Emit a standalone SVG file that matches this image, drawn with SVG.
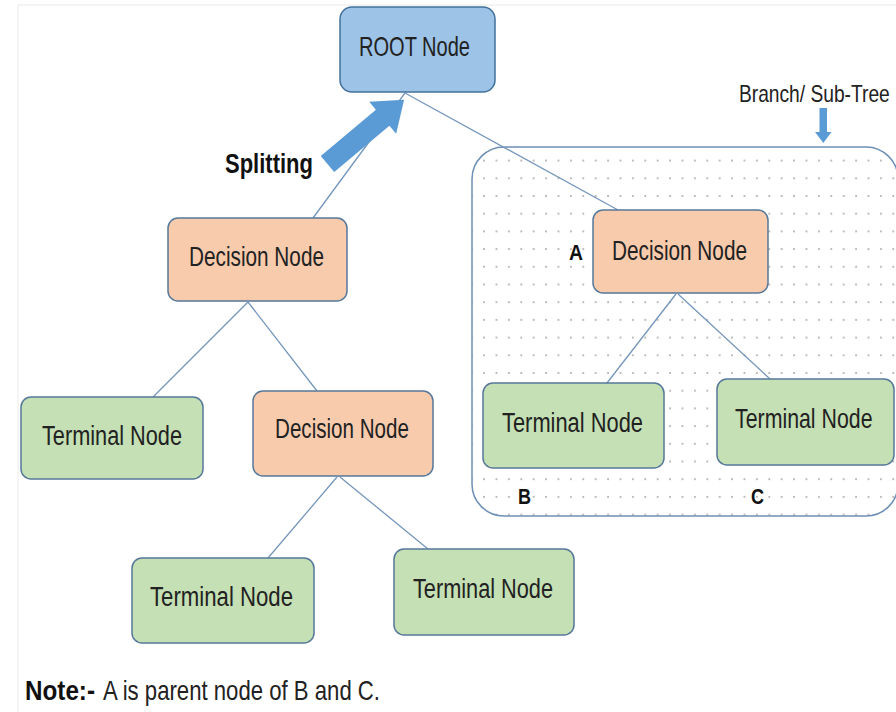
<svg xmlns="http://www.w3.org/2000/svg" width="896" height="712" viewBox="0 0 896 712">
<style>
.lbl{font-family:"Liberation Sans",Arial,sans-serif;font-size:27px;fill:#222222}
.bold{font-family:"Liberation Sans",Arial,sans-serif;font-weight:bold;fill:#111111}
.node{stroke:#56789a;stroke-width:1.5}
.dec{fill:#f8cbad}
.term{fill:#c5e0b4}
.root{fill:#9dc3e6;stroke:#41719c;stroke-width:1.5}
.conn{stroke:#7596bb;stroke-width:1.3;fill:none}
.blue{fill:#5b9bd5}
</style>
<defs>
<pattern id="dots" patternUnits="userSpaceOnUse" x="780.7" y="177.3" width="12.4" height="17.7">
<circle cx="1" cy="1" r="1" fill="#a9a9a9"/>
</pattern>
</defs>
<rect width="896" height="712" fill="#ffffff"/>
<line x1="18" y1="5" x2="896" y2="5" stroke="#e8e8e8" stroke-width="1"/>
<line x1="18" y1="5" x2="18" y2="712" stroke="#ececec" stroke-width="1"/>

<g id="subtree">
<rect x="472" y="147" width="426" height="369" rx="32" ry="32" fill="url(#dots)" stroke="#6d8fb5" stroke-width="1.5"/>
</g>

<g id="connectors">
<line class="conn" x1="405" y1="93" x2="313" y2="218"/>
<line class="conn" x1="405" y1="93" x2="618" y2="210"/>
<line class="conn" x1="248" y1="302" x2="153" y2="397"/>
<line class="conn" x1="248" y1="302" x2="317" y2="391"/>
<line class="conn" x1="337" y1="477" x2="268" y2="558"/>
<line class="conn" x1="340" y1="477" x2="428" y2="549"/>
<line class="conn" x1="676" y1="294" x2="607" y2="383"/>
<line class="conn" x1="678" y1="294" x2="770" y2="379"/>
</g>

<g id="splitting-arrow">
<polygon class="blue" transform="translate(327.5,164) rotate(-40)" points="0,-10.5 72,-10.5 72,-21 100,0 72,21 72,10.5 0,10.5"/>
<text class="bold" x="225" y="173" font-size="27" textLength="88" lengthAdjust="spacingAndGlyphs">Splitting</text>
</g>

<g id="branch-label">
<text class="lbl" style="font-size:24px" transform="translate(739,102) scale(0.8,1)">Branch/ Sub-Tree</text>
<polygon class="blue" points="819.5,108 827,108 827,132 831.5,132 823.3,143 815,132 819.5,132"/>
</g>

<g id="root">
<rect class="root" x="340" y="7" width="155" height="85" rx="12" ry="12"/>
<text class="lbl" x="359" y="56" style="font-size:28px" textLength="111" lengthAdjust="spacingAndGlyphs">ROOT Node</text>
</g>

<g id="decision-left">
<rect class="node dec" x="168" y="218" width="179" height="83" rx="10" ry="10"/>
<text class="lbl" x="189" y="266" textLength="135" lengthAdjust="spacingAndGlyphs">Decision Node</text>
</g>

<g id="terminal-left">
<rect class="node term" x="21" y="397" width="182" height="82" rx="10" ry="10"/>
<text class="lbl" x="42" y="445" textLength="140" lengthAdjust="spacingAndGlyphs">Terminal Node</text>
</g>

<g id="decision-mid">
<rect class="node dec" x="253" y="391" width="180" height="85" rx="10" ry="10"/>
<text class="lbl" x="275" y="438" textLength="134" lengthAdjust="spacingAndGlyphs">Decision Node</text>
</g>

<g id="terminal-bottom-left">
<rect class="node term" x="132" y="558" width="182" height="85" rx="10" ry="10"/>
<text class="lbl" x="150" y="606" textLength="143" lengthAdjust="spacingAndGlyphs">Terminal Node</text>
</g>

<g id="terminal-bottom-right">
<rect class="node term" x="394" y="549" width="180" height="86" rx="10" ry="10"/>
<text class="lbl" x="413" y="598" textLength="140" lengthAdjust="spacingAndGlyphs">Terminal Node</text>
</g>

<g id="decision-a">
<rect class="node dec" x="593" y="210" width="175" height="83" rx="10" ry="10"/>
<text class="lbl" x="612" y="260" textLength="135" lengthAdjust="spacingAndGlyphs">Decision Node</text>
<text class="bold" x="569" y="260" font-size="22" textLength="14" lengthAdjust="spacingAndGlyphs">A</text>
</g>

<g id="terminal-b">
<rect class="node term" x="483" y="383" width="181" height="85" rx="10" ry="10"/>
<text class="lbl" x="502" y="432" textLength="141" lengthAdjust="spacingAndGlyphs">Terminal Node</text>
<text class="bold" x="518" y="504" font-size="22" textLength="13" lengthAdjust="spacingAndGlyphs">B</text>
</g>

<g id="terminal-c">
<rect class="node term" x="717" y="379" width="177" height="86" rx="10" ry="10"/>
<text class="lbl" transform="translate(735,428) scale(0.79,1)">Terminal Node</text>
<text class="bold" x="751" y="504" font-size="22" textLength="13" lengthAdjust="spacingAndGlyphs">C</text>
</g>

<g id="note">
<text class="bold" x="25" y="700" font-size="28" textLength="70" lengthAdjust="spacingAndGlyphs">Note:-</text>
<text class="lbl" x="103" y="700" style="font-size:28px" textLength="277" lengthAdjust="spacingAndGlyphs">A is parent node of B and C.</text>
</g>
</svg>
